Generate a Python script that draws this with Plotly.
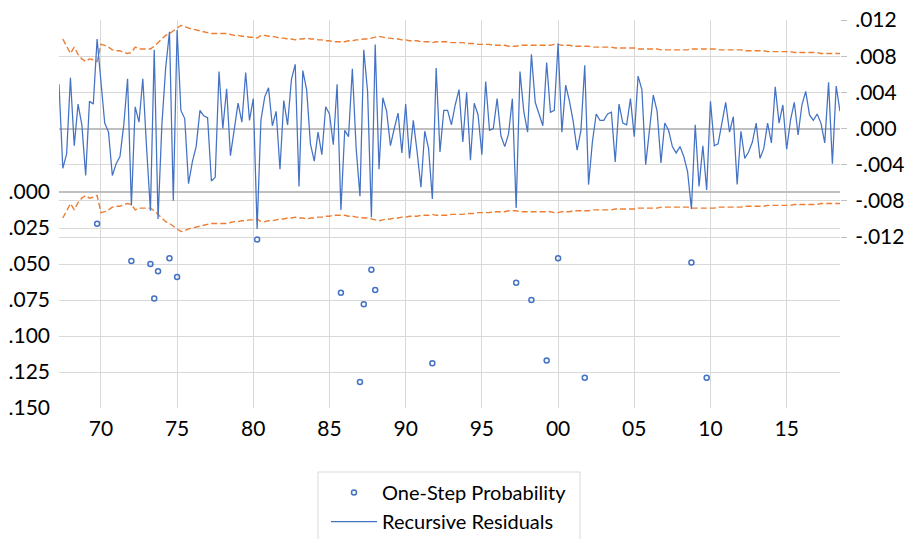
import plotly.graph_objects as go
import pandas as pd

# ---------------- data ----------------
start_quarter = "1967Q2"
n_obs = 206

resid = [
    .0049, -.0044, -.0028, .0056, -.0019, .0027, .0004, -.0052, .0030, .0027,
    .0099, .0052, .0006, -.0004, -.0052, -.0039, -.0031, .0004, .0055, -.0085,
    .0024, .0007, .0055, -.0022, -.0091, .0087, -.0100, .0004, .0067, .0107,
    -.0080, .0109, .0020, .0011, -.0061, -.0037, -.0020, .0020, .0014, .0012,
    -.0058, -.0054, .0063, .0000, .0044, -.0030, .0000, .0028, .0007, .0062,
    .0009, .0033, -.0111, .0009, .0035, .0045, .0003, .0019, -.0045, .0031,
    .0004, .0054, .0071, -.0064, .0064, .0043, -.0017, -.0036, -.0004, -.0029,
    .0024, .0016, -.0018, .0049, -.0090, -.0002, -.0009, .0066, -.0022, -.0075,
    .0087, .0041, -.0098, .0093, -.0045, .0034, .0019, -.0019, .0000, .0017,
    -.0027, .0027, -.0033, .0009, -.0026, -.0065, -.0003, -.0022, -.0078, .0067,
    -.0026, .0020, .0020, .0004, .0026, .0043, -.0015, .0040, -.0035, .0028,
    .0015, -.0029, .0052, -.0002, .0000, .0033, -.0008, -.0020, -.0006, .0033,
    -.0088, .0063, .0019, -.0004, .0082, .0029, .0016, .0003, .0073, .0018,
    .0020, .0094, -.0004, .0048, .0030, .0007, -.0024, -.0002, .0070, -.0062,
    -.0015, .0016, .0009, .0009, .0016, .0018, -.0037, .0027, .0006, .0004,
    .0033, -.0009, .0058, .0043, -.0040, .0000, .0037, .0019, -.0038, .0006,
    -.0002, -.0020, -.0027, -.0020, -.0031, -.0048, -.0089, .0004, -.0064, -.0019,
    -.0068, .0030, -.0019, -.0017, .0008, .0029, -.0004, .0013, -.0062, -.0003,
    -.0033, -.0026, -.0015, .0006, -.0033, -.0022, .0006, -.0016, .0046, .0006,
    .0026, -.0023, .0009, .0029, -.0007, .0026, .0041, .0015, .0009, .0016,
    .0006, -.0016, .0051, -.0039, .0047, .0019,
]

# two standard-error band (+/-)
band = [
    None,
    .0099, .0091, .0083, .0090, .0082, .0077, .0074, .0077, .0076, .0074,
    .0093, .0092, .0090, .0087, .0086, .0086, .0084, .0083, .0084, .0090,
    .0088, .0088, .0088, .0088, .0091, .0095, .0100, .0103, .0105, .0108,
    .0112, .0114, .0113, .0111, .0110, .0109, .0108, .0107, .0106, .0105,
    .0105, .0105, .0105, .0105, .0104, .0103, .0103, .0102, .0102, .0101,
    .0101, .0100, .0103, .0103, .0102, .0102, .0101, .0100, .0100, .0099,
    .0099, .0098, .0099, .0099, .0100, .0099, .0099, .0098, .0098, .0097,
    .0097, .0096, .0096, .0096, .0096, .0097, .0097, .0098, .0098, .0099,
    .0099, .0100, .0101, .0102, .0101, .0100, .0100, .0099, .0099, .0098,
    .0098, .0097, .0097, .0097, .0096, .0096, .0096, .0095, .0096, .0096,
    .0096, .0096, .0095, .0095, .0095, .0095, .0094, .0094, .0094, .0093,
    .0093, .0093, .0093, .0092, .0092, .0092, .0092, .0091, .0091, .0091,
    .0092, .0092, .0092, .0092, .0092, .0092, .0092, .0092, .0092, .0093,
    .0093, .0092, .0092, .0092, .0091, .0091, .0091, .0091, .0091, .0090,
    .0090, .0090, .0090, .0090, .0090, .0089, .0089, .0089, .0089, .0089,
    .0089, .0088, .0088, .0088, .0088, .0088, .0088, .0087, .0087, .0087,
    .0087, .0087, .0087, .0087, .0087, .0088, .0088, .0088, .0088, .0088,
    .0088, .0088, .0087, .0087, .0087, .0087, .0087, .0087, .0087, .0086,
    .0086, .0086, .0086, .0086, .0086, .0085, .0085, .0085, .0085, .0085,
    .0085, .0085, .0084, .0084, .0084, .0084, .0084, .0084, .0084, .0083,
    .0083, .0083, .0083, .0083, .0083,
]

prob_quarters = ["1969Q4", "1972Q1", "1973Q2", "1973Q3", "1973Q4", "1974Q3", "1975Q1",
                 "1980Q2", "1985Q4", "1987Q1", "1987Q2", "1987Q4", "1988Q1", "1991Q4",
                 "1997Q2", "1998Q2", "1999Q2", "2000Q1", "2001Q4", "2008Q4", "2009Q4"]
prob_values = [.022, .048, .050, .074, .055, .046, .059,
               .033, .070, .132, .078, .054, .068, .119,
               .063, .075, .117, .046, .129, .049, .129]

x_tick_years = [1970, 1975, 1980, 1985, 1990, 1995, 2000, 2005, 2010, 2015]
x_tick_text = ["70", "75", "80", "85", "90", "95", "00", "05", "10", "15"]
left_tick_vals = [0, .025, .05, .075, .10, .125, .15]
left_tick_text = [".000", ".025", ".050", ".075", ".100", ".125", ".150"]
right_tick_vals = [.012, .008, .004, 0, -.004, -.008, -.012]
right_tick_text = [".012", ".008", ".004", ".000", "-.004", "-.008", "-.012"]

# ---------------- helpers ----------------
def q_to_dec(p):
    return p.year + (p.quarter - 1) / 4.0

periods = pd.period_range(start=start_quarter, periods=n_obs, freq="Q")
x = [q_to_dec(p) for p in periods]
x_prob = [q_to_dec(pd.Period(q, freq="Q")) for q in prob_quarters]
band_up = list(band)
band_lo = [None if b is None else -b for b in band]

BLUE = "#4472C4"
ORANGE = "#ED7D31"
GRID = "#D9D9D9"
ZERO = "#BFBFBF"
FONT = "Lato"
TICK_SIZE = 21

fig = go.Figure()

fig.add_trace(go.Scatter(
    x=x_prob, y=prob_values, mode="markers", name="One-Step Probability",
    marker=dict(symbol="circle-open", size=5, color=BLUE, line=dict(width=1.5, color=BLUE)),
    yaxis="y", legendgroup="a"))

fig.add_trace(go.Scatter(
    x=x, y=band_up, mode="lines", showlegend=False,
    line=dict(color=ORANGE, width=1.4, dash="6px,3px"), yaxis="y2"))
fig.add_trace(go.Scatter(
    x=x, y=band_lo, mode="lines", showlegend=False,
    line=dict(color=ORANGE, width=1.4, dash="6px,3px"), yaxis="y2"))

fig.add_trace(go.Scatter(
    x=x, y=resid, mode="lines", name="Recursive Residuals",
    line=dict(color=BLUE, width=1.25), yaxis="y2", legendgroup="b"))

L, R, T, B = 59, 71, 20, 131
W, H = 911, 539
pw = W - L - R
ph = H - T - B

def px_x(p):
    return (p - L) / pw

def px_y(p):
    return (H - B - p) / ph

fig.update_layout(
    width=W, height=H,
    margin=dict(l=L, r=R, t=T, b=B, autoexpand=False),
    paper_bgcolor="white", plot_bgcolor="white",
    font=dict(family=FONT, size=TICK_SIZE, color="black"),
    xaxis=dict(range=[1967.25, 2018.5], tickmode="array", tickvals=x_tick_years,
               ticktext=x_tick_text, showgrid=True, gridcolor=GRID, gridwidth=1,
               zeroline=False, showline=False, ticks="", ticklabelstandoff=6,
               automargin=False, tickfont=dict(size=TICK_SIZE)),
    yaxis=dict(range=[0.15, -0.11944], tickmode="array", tickvals=left_tick_vals,
               ticktext=left_tick_text, showgrid=True, gridcolor=GRID, gridwidth=1,
               zeroline=True, zerolinecolor=ZERO, zerolinewidth=2, showline=False,
               ticks="", ticklabelstandoff=8, automargin=False,
               tickfont=dict(size=TICK_SIZE)),
    yaxis2=dict(range=[-0.03091, 0.012], overlaying="y", side="right", tickmode="array",
                tickvals=right_tick_vals, ticktext=right_tick_text, showgrid=True,
                gridcolor=GRID, gridwidth=1, zeroline=True, zerolinecolor=ZERO,
                zerolinewidth=2, showline=False, ticks="outside", ticklen=6,
                tickcolor=ZERO, ticklabelstandoff=4, automargin=False,
                tickfont=dict(size=TICK_SIZE)),
    legend=dict(x=px_x(326), y=px_y(473), xanchor="left", yanchor="top",
                orientation="v", font=dict(family=FONT, size=20, color="black"),
                bgcolor="rgba(0,0,0,0)", itemwidth=46, tracegroupgap=4,
                traceorder="normal"),
    shapes=[dict(type="rect", xref="paper", yref="paper",
                 x0=px_x(318), x1=px_x(580), y0=px_y(472), y1=px_y(548),
                 line=dict(color=GRID, width=1), fillcolor="rgba(0,0,0,0)")],
    showlegend=True,
)

fig.write_html("out.html",
               config={"displayModeBar": False, "staticPlot": True},
               post_script="document.body.style.margin='0';document.body.style.overflow='hidden';")
